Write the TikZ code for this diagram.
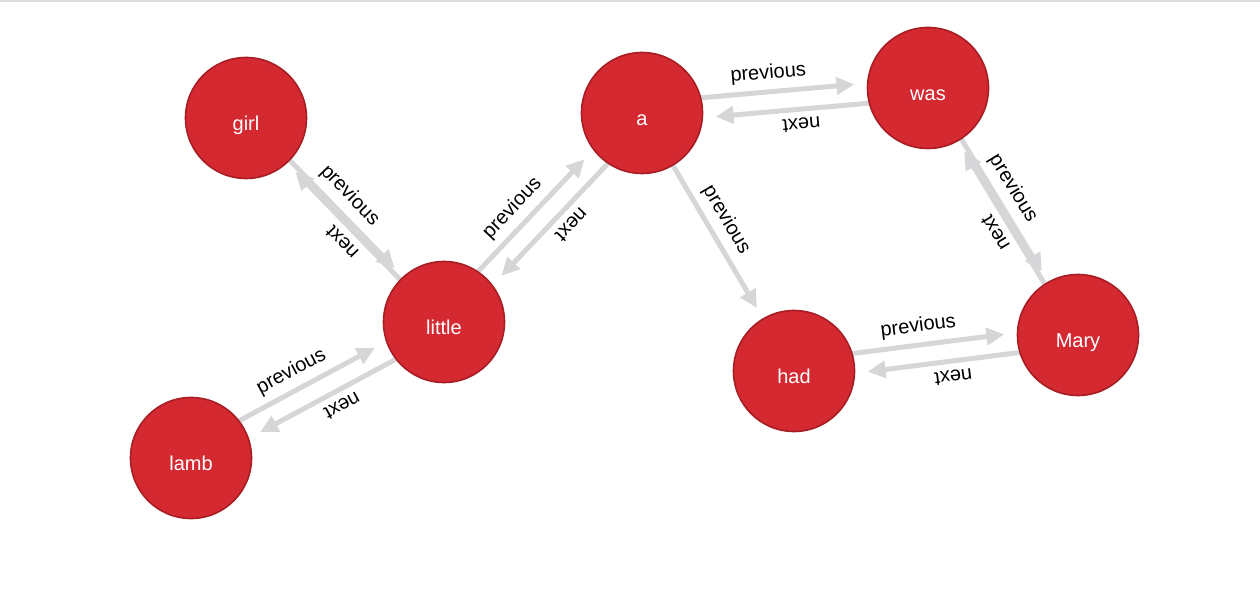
\documentclass[tikz,border=0pt]{standalone}
\usepackage{fontspec}
\setmainfont{Liberation Sans}
\usetikzlibrary{arrows.meta,calc,backgrounds}
\definecolor{nodered}{RGB}{213,41,49}
\definecolor{nodeline}{RGB}{166,30,36}
\definecolor{relgray}{RGB}{214,214,216}
\definecolor{framegray}{RGB}{221,221,221}

\begin{document}
\begin{tikzpicture}[
  x=0.5pt, y=-0.5pt,
  word/.style={circle, draw=nodeline, line width=0.8pt, fill=nodered, text=white, minimum size=60.5pt, inner sep=0pt, font=\fontsize{10}{12}\selectfont, text height=13pt, text depth=0pt},
  rel/.style={draw=relgray, line width=2.5pt, -{Triangle[length=9pt,width=8.5pt]}, shorten <=30pt, shorten >=36.5pt},
  lbl/.style={pos=0.45, sloped, allow upside down, above, text=black, font=\fontsize{10}{12}\selectfont}
]
\useasboundingbox (0,0) rectangle (1260,592);
\fill[framegray] (0,0) rectangle (1260,2);
% words
\node[word] (girl) at (246,118) {girl};
\node[word] (a) at (642,113) {a};
\node[word] (was) at (928,88) {was};
\node[word] (little) at (444,322) {little};
\node[word] (lamb) at (191,458) {lamb};
\node[word] (had) at (794,371) {had};
\node[word] (Mary) at (1078,335) {Mary};
% relationships
\begin{scope}[on background layer]
\draw[rel] ($(girl)!1pt!90:(little)$) -- ($(little)!1pt!-90:(girl)$) node[lbl] {previous};
\draw[rel] ($(little)!1pt!90:(girl)$) -- ($(girl)!1pt!-90:(little)$) node[lbl] {next};
\draw[rel] ($(lamb)!5pt!90:(little)$) -- ($(little)!5pt!-90:(lamb)$) node[lbl] {previous};
\draw[rel] ($(little)!5pt!90:(lamb)$) -- ($(lamb)!5pt!-90:(little)$) node[lbl] {next};
\draw[rel] ($(little)!5pt!90:(a)$) -- ($(a)!5pt!-90:(little)$) node[lbl] {previous};
\draw[rel] ($(a)!5pt!90:(little)$) -- ($(little)!5pt!-90:(a)$) node[lbl] {next};
\draw[rel] ($(a)!5pt!90:(was)$) -- ($(was)!5pt!-90:(a)$) node[lbl] {previous};
\draw[rel] ($(was)!5pt!90:(a)$) -- ($(a)!5pt!-90:(was)$) node[lbl] {next};
\draw[rel] (a.center) -- (had.center) node[lbl] {previous};
\draw[rel] ($(was)!1pt!90:(Mary)$) -- ($(Mary)!1pt!-90:(was)$) node[lbl] {previous};
\draw[rel] ($(Mary)!1pt!90:(was)$) -- ($(was)!1pt!-90:(Mary)$) node[lbl] {next};
\draw[rel] ($(had)!5pt!90:(Mary)$) -- ($(Mary)!5pt!-90:(had)$) node[lbl] {previous};
\draw[rel] ($(Mary)!5pt!90:(had)$) -- ($(had)!5pt!-90:(Mary)$) node[lbl] {next};
\end{scope}
\end{tikzpicture}
\end{document}
